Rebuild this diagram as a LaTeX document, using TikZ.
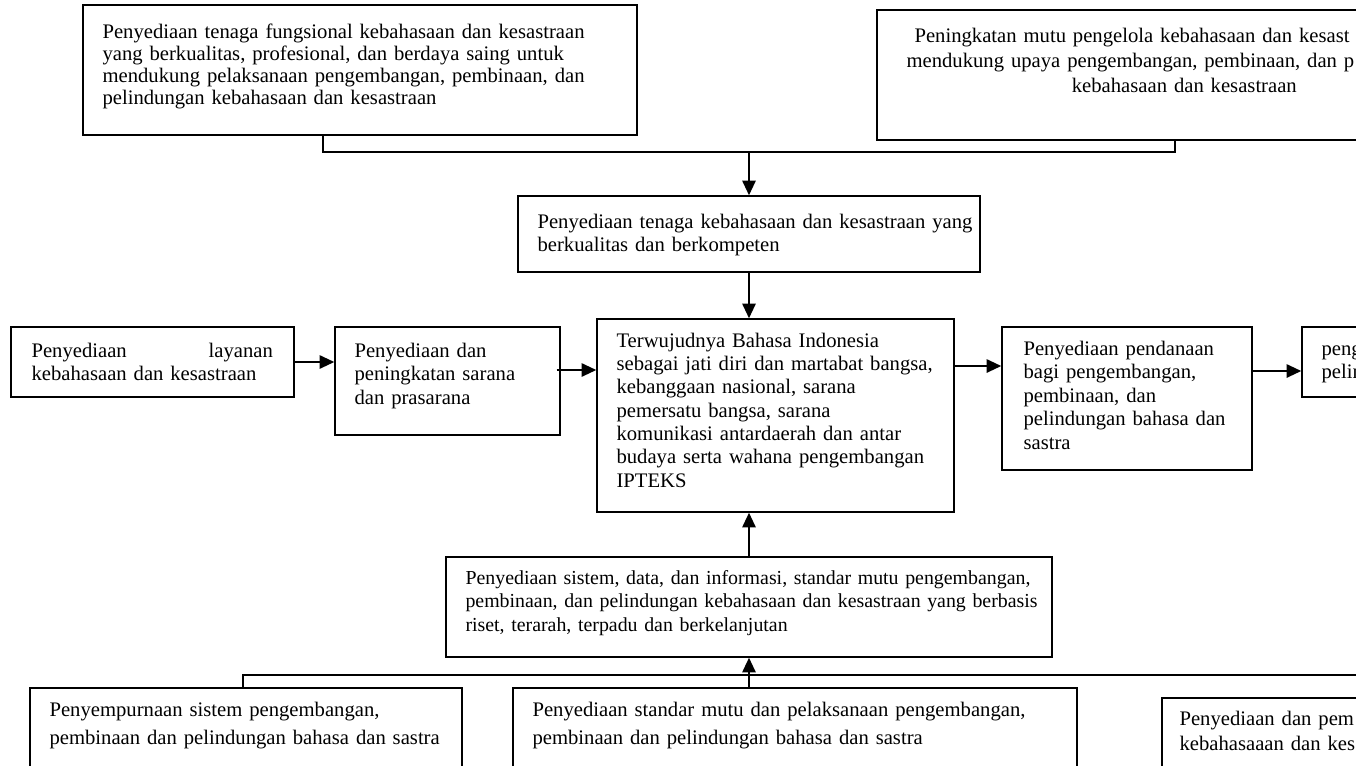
\documentclass[tikz,border=0pt]{standalone}
\usepackage{fontspec}
\setmainfont{Liberation Serif}
\usetikzlibrary{arrows.meta,fit,calc}

\begin{document}
\begin{tikzpicture}[x=0.75pt,y=-0.75pt,
        box/.style={draw,line width=1.1pt,inner sep=0pt},
        txt/.style={anchor=base west,inner sep=0pt,align=left,font=\fontsize{15.5}{17.6}\selectfont},
        arr/.style={line width=1.4pt,-{Triangle[length=11pt,width=10pt]}},
        link/.style={line width=1.1pt}]
        \useasboundingbox (0,0) rectangle (1356,765);
        \clip (0,0) rectangle (1356,765);
        %Boxes
        \node[box,fit={(83,5) (637,135)}] (fung) {};
        \node[box,fit={(877,10) (1493,140)}] (mutu) {};
        \node[box,fit={(518,196) (980,272)}] (tenaga) {};
        \node[box,fit={(597,319) (954,512)}] (wujud) {};
        \node[box,fit={(11,327) (294,397)}] (layanan) {};
        \node[box,fit={(335,327) (560,435)}] (sarana) {};
        \node[box,fit={(1002,327) (1252,470)}] (dana) {};
        \node[box,fit={(1302,327) (1500,397)}] (kelola) {};
        \node[box,fit={(446,557) (1052,657)}] (sistem) {};
        \node[box,fit={(30,688) (462,790)}] (sempurna) {};
        \node[box,fit={(513,688) (1077,790)}] (standar) {};
        \node[box,fit={(1162,698) (1500,790)}] (bina) {};
        %Text
        \node[txt,text width=380pt,font=\fontsize{15.5}{16.6}\selectfont] at ([shift={(20,34)}]fung.north west)
            {Penyediaan tenaga fungsional kebahasaan dan kesastraan\\
             yang berkualitas, profesional, dan berdaya saing untuk\\
             mendukung pelaksanaan pengembangan, pembinaan, dan\\
             pelindungan kebahasaan dan kesastraan};
        \node[txt,text width=460pt,font=\fontsize{15.5}{19}\selectfont] at ([shift={(30,33)}]mutu.north west)
            {\hspace*{6pt}Peningkatan mutu pengelola kebahasaan dan kesast\\
             mendukung upaya pengembangan, pembinaan, dan p\\
             \hspace*{124pt}kebahasaan dan kesastraan};
        \node[txt,text width=340pt,font=\fontsize{15.5}{17.3}\selectfont] at ([shift={(20,33)}]tenaga.north west)
            {Penyediaan tenaga kebahasaan dan kesastraan yang\\
             berkualitas dan berkompeten};
        \node[txt,text width=250pt,font=\fontsize{15.5}{17.5}\selectfont] at ([shift={(20,29)}]wujud.north west)
            {Terwujudnya Bahasa Indonesia\\
             sebagai jati diri dan martabat bangsa,\\
             kebanggaan nasional, sarana\\
             pemersatu bangsa, sarana\\
             komunikasi antardaerah dan antar\\
             budaya serta wahana pengembangan\\
             IPTEKS};
        \node[txt,text width=181pt] at ([shift={(21,31)}]layanan.north west)
            {Penyediaan \hfill layanan\\
             kebahasaan dan kesastraan};
        \node[txt,text width=150pt] at ([shift={(20,31)}]sarana.north west)
            {Penyediaan dan\\
             peningkatan sarana\\
             dan prasarana};
        \node[txt,text width=172pt] at ([shift={(22,29)}]dana.north west)
            {Penyediaan pendanaan\\
             bagi pengembangan,\\
             pembinaan, dan\\
             pelindungan bahasa dan\\
             sastra};
        \node[txt,text width=100pt] at ([shift={(20,29)}]kelola.north west)
            {peng\\
             pelin};
        \node[txt,text width=470pt,font=\fontsize{14.9}{17.6}\selectfont] at ([shift={(20,28)}]sistem.north west)
            {Penyediaan sistem, data, dan informasi, standar mutu pengembangan,\\
             pembinaan, dan pelindungan kebahasaan dan kesastraan yang berbasis\\
             riset, terarah, terpadu dan berkelanjutan};
        \node[txt,text width=315pt,font=\fontsize{15.5}{21}\selectfont] at ([shift={(20,29)}]sempurna.north west)
            {Penyempurnaan sistem pengembangan,\\
             pembinaan dan pelindungan bahasa dan sastra};
        \node[txt,text width=412pt,font=\fontsize{15.5}{21}\selectfont] at ([shift={(20,29)}]standar.north west)
            {Penyediaan standar mutu dan pelaksanaan pengembangan,\\
             pembinaan dan pelindungan bahasa dan sastra};
        \node[txt,text width=250pt,font=\fontsize{15.5}{19}\selectfont] at ([shift={(18,28)}]bina.north west)
            {Penyediaan dan pem\\
             kebahasaaan dan kes};
        %Connectors
        \coordinate (topl) at (323,152);
        \coordinate (topr) at (1175,152);
        \coordinate (botl) at (243,675);
        \coordinate (botr) at (1400,675);
        \draw[link] (fung.south -| topl) -- (topl) -- (topr) -- (mutu.south -| topr);
        \draw[link] (sempurna.north -| botl) -- (botl) -- (botr);
        %Arrows
        \draw[arr] (topl -| tenaga.north) -- (tenaga.north);
        \draw[arr] (tenaga.south) -- (tenaga.south |- wujud.north);
        \draw[arr] (sistem.north) -- (sistem.north |- wujud.south);
        \draw[arr] (sistem.south |- standar.north) -- (sistem.south);
        \draw[arr] (layanan.east) -- (sarana.west |- layanan.east);
        \draw[arr] ($(sarana.east |- 0,370)+(-4,0)$) -- (wujud.west |- 0,370);
        \draw[arr] (wujud.east |- 0,366) -- (dana.west |- 0,366);
        \draw[arr] (dana.east |- 0,371) -- (kelola.west |- 0,371);
\end{tikzpicture}
\end{document}
